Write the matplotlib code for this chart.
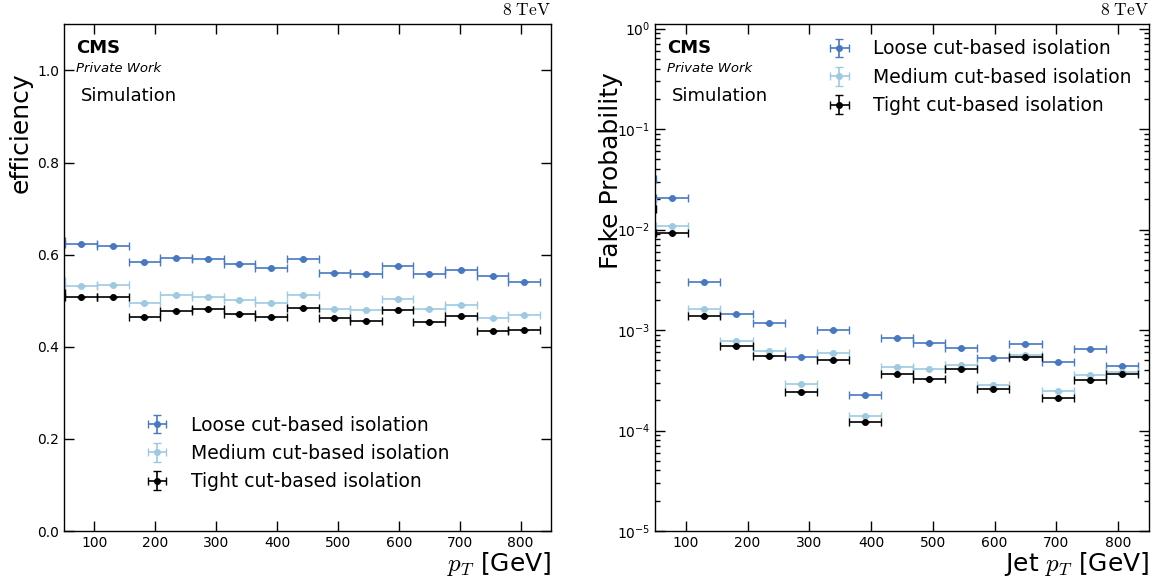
import numpy as np
import matplotlib
matplotlib.use('Agg')
import matplotlib.pyplot as plt

# binning in pT (GeV), 52 GeV wide bins
bin_edges = np.arange(0, 833, 52)
bin_centers = (bin_edges[:-1] + bin_edges[1:]) / 2
bin_halfwidth = np.diff(bin_edges) / 2

labels = ['Loose cut-based isolation', 'Medium cut-based isolation', 'Tight cut-based isolation']
colors = ['#4878c0', '#9ecae1', 'black']

# efficiency (left panel)
eff_loose = [0.630, 0.624, 0.618, 0.583, 0.592, 0.591, 0.580, 0.572, 0.590, 0.560, 0.559, 0.576, 0.559, 0.567, 0.553, 0.541]
eff_medium = [0.543, 0.533, 0.534, 0.495, 0.512, 0.509, 0.501, 0.495, 0.512, 0.483, 0.480, 0.503, 0.483, 0.490, 0.462, 0.469]
eff_tight = [0.517, 0.507, 0.507, 0.465, 0.478, 0.481, 0.472, 0.464, 0.485, 0.463, 0.457, 0.480, 0.454, 0.467, 0.434, 0.437]

# fake probability (right panel)
fake_loose = [0.0317, 0.0204, 0.0030, 0.00143, 0.00118, 0.000542, 0.00099, 0.000226, 0.000837, 0.000746, 0.000665, 0.000525, 0.000729, 0.000486, 0.000646, 0.000441]
fake_medium = [0.019, 0.01087, 0.00163, 0.000781, 0.000616, 0.000291, 0.000589, 0.0001396, 0.000431, 0.000408, 0.000447, 0.000281, 0.000562, 0.000246, 0.000356, 0.000385]
fake_tight = [0.0159, 0.00933, 0.001377, 0.000687, 0.000546, 0.000244, 0.000498, 0.0001227, 0.000363, 0.000327, 0.000411, 0.000258, 0.000537, 0.000211, 0.000315, 0.000369]

fig = plt.figure(figsize=(11.58, 5.79), dpi=100)
ax1 = fig.add_axes([0.0553, 0.0829, 0.4206, 0.875])
ax2 = fig.add_axes([0.5656, 0.0829, 0.4266, 0.875])


def style_axis(ax):
    ax.tick_params(which='both', direction='in', top=True, right=True, labelsize=10)
    ax.tick_params(which='major', length=7, width=1)
    ax.tick_params(which='minor', length=3.5, width=1)
    ax.set_xlim(50, 850)
    ax.set_xticks(range(100, 801, 100))
    ax.tick_params(axis='x', which='minor', bottom=False, top=False)
    for s in ax.spines.values():
        s.set_linewidth(1)
    ax.text(0.024, 0.943, 'CMS', transform=ax.transAxes, fontsize=13, fontweight='bold')
    ax.text(0.024, 0.906, 'Private Work', transform=ax.transAxes, fontsize=9.5, style='italic')
    ax.text(0.035, 0.849, 'Simulation', transform=ax.transAxes, fontsize=13)
    ax.text(1.0, 1.01, r'$\mathrm{8\ TeV}$', transform=ax.transAxes, fontsize=12.5,
            ha='right', va='bottom', math_fontfamily='cm')


def draw(ax, series):
    for y, c, lab in zip(series, colors, labels):
        ax.errorbar(bin_centers, y, xerr=bin_halfwidth, yerr=0, fmt='o', color=c, ms=4,
                    lw=1.2, capsize=3, capthick=1, label=lab)


def add_legend(ax, anchor):
    leg = ax.legend(loc='center left', bbox_to_anchor=anchor, frameon=False, fontsize=13.5,
                    borderpad=0, borderaxespad=0, labelspacing=0.5, handletextpad=0.8)
    return leg


draw(ax1, [eff_loose, eff_medium, eff_tight])
style_axis(ax1)
ax1.set_ylim(0, 1.1)
ax1.set_yticks([0.0, 0.2, 0.4, 0.6, 0.8, 1.0])
ax1.set_ylabel('efficiency', fontsize=18, loc='top')
ax1.yaxis.set_label_coords(-0.065, 0.905)
ax1.set_xlabel(r'$p_T$ [GeV]', fontsize=18, loc='right', math_fontfamily='cm', labelpad=0)
add_legend(ax1, (0.1526, 0.153))

draw(ax2, [fake_loose, fake_medium, fake_tight])
ax2.set_yscale('log')
style_axis(ax2)
ax2.set_ylim(1e-5, 1.1)
ax2.set_ylabel('Fake Probability', fontsize=18, loc='top')
ax2.yaxis.set_label_coords(-0.065, 0.905)
ax2.set_xlabel(r'Jet $p_T$ [GeV]', fontsize=18, loc='right', math_fontfamily='cm', labelpad=0)
add_legend(ax2, (0.335, 0.8954))

fig.savefig('out.png', dpi=100)
